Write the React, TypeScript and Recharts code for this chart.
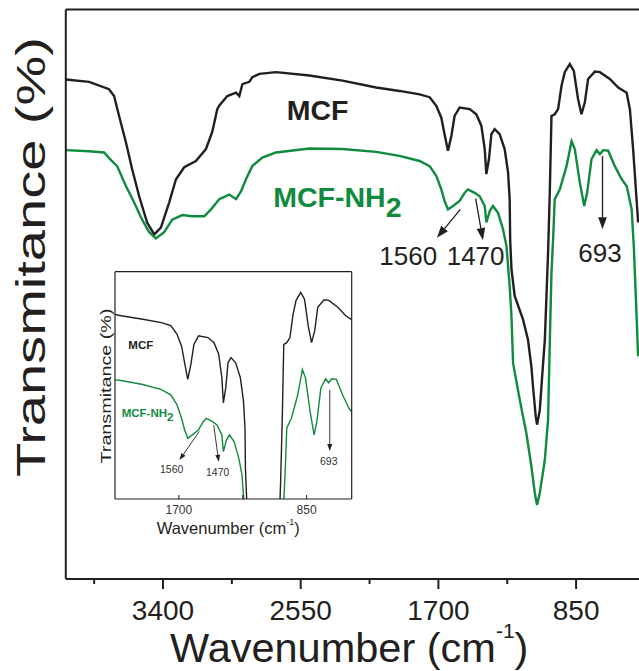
import { LineChart, Line, XAxis, YAxis, ReferenceLine } from "recharts";

const ink = "#231f20";
const green = "#0f8b3d";
const font = "'Liberation Sans', Arial, sans-serif";

// MCF spectrum (wavenumber, transmittance)
const mcfWn = [4000, 3856, 3733, 3702, 3671, 3629, 3590, 3547, 3498, 3454, 3413, 3362, 3320, 3269, 3197, 3135, 3096, 3065, 3053, 3003, 2949, 2929, 2910, 2867, 2849, 2805, 2702, 2496, 2292, 2084, 1940, 1816, 1754, 1713, 1682, 1662, 1641, 1620, 1600, 1569, 1507, 1466, 1435, 1414, 1404, 1388, 1373, 1353, 1322, 1291, 1270, 1260, 1257, 1249, 1229, 1178, 1147, 1126, 1116, 1099, 1091, 1074, 1058, 1043, 1033, 1023, 1012, 1002, 982, 961, 940, 920, 889, 864, 838, 817, 796, 776, 734, 703, 642, 590, 538, 518, 498, 477, 467];
const mcfT = [87.7, 87.3, 86.0, 84.8, 81.3, 76.7, 71.9, 67.2, 62.6, 60.5, 61.7, 66.1, 70.2, 72.3, 73.4, 75.5, 78.5, 82.5, 83.1, 84.8, 85.4, 84.8, 86.9, 87.3, 88.1, 88.7, 89.0, 88.4, 87.5, 86.3, 85.7, 85.1, 84.6, 83.1, 81.0, 78.1, 75.2, 77.8, 81.3, 82.8, 82.5, 81.6, 79.6, 75.5, 71.1, 73.7, 78.1, 79.0, 78.1, 75.5, 71.4, 66.7, 59.6, 54.4, 49.7, 45.6, 42.0, 37.3, 33.8, 28.5, 27.1, 29.7, 36.2, 42.0, 49.7, 57.3, 68.4, 81.3, 81.6, 82.5, 86.6, 89.0, 90.4, 89.2, 84.3, 81.6, 83.7, 87.8, 89.1, 89.0, 87.8, 86.3, 85.4, 82.5, 75.5, 66.7, 62.6];

// MCF-NH2 spectrum
const nh2Wn = [4000, 3856, 3763, 3733, 3683, 3629, 3578, 3529, 3485, 3444, 3393, 3343, 3281, 3220, 3145, 3104, 3053, 2991, 2949, 2918, 2888, 2849, 2787, 2702, 2496, 2292, 2084, 1940, 1816, 1754, 1713, 1682, 1662, 1641, 1610, 1569, 1538, 1518, 1476, 1445, 1414, 1404, 1383, 1363, 1332, 1301, 1280, 1260, 1249, 1239, 1198, 1157, 1126, 1105, 1091, 1074, 1043, 1023, 1012, 1002, 992, 982, 951, 909, 878, 858, 827, 800, 782, 755, 724, 703, 683, 652, 611, 569, 538, 507, 493, 467];
const nh2T = [75.3, 75.1, 74.9, 73.9, 72.5, 69.0, 66.1, 63.1, 60.9, 59.8, 60.9, 63.1, 63.9, 63.7, 63.7, 64.9, 66.7, 67.5, 66.7, 68.1, 70.2, 72.5, 74.0, 74.9, 75.6, 75.5, 75.0, 74.3, 73.4, 72.5, 70.8, 68.4, 66.4, 64.9, 65.5, 66.4, 67.8, 68.4, 67.8, 67.2, 65.5, 62.6, 64.6, 65.5, 64.3, 61.4, 58.5, 51.4, 46.1, 37.9, 31.5, 25.6, 19.8, 15.1, 13.0, 15.1, 20.9, 28.0, 42.0, 53.8, 59.6, 66.7, 68.4, 72.5, 76.9, 75.5, 69.6, 65.5, 67.8, 73.7, 75.3, 74.6, 75.3, 75.2, 72.5, 70.2, 69.0, 64.9, 57.9, 39.1];

const mainTicks = [3825, 3400, 2975, 2550, 2125, 1700, 1275, 850, 425];
const mainLabels = [3400, 2550, 1700, 850];
const insetXTicks = [1700, 1275, 850];
const insetLabels = [1700, 850];
const insetYTicks = [92.1, 85.8, 79.5, 73.2, 66.9, 60.6];

// arrows: [from, to] in (wavenumber, T)
const mainArrows = [
  [[1565, 64.9], [1709, 59.9]],
  [[1470, 66.8], [1425, 59.5]],
  [[687, 74.3], [687, 61.4]],
];
const insetArrows = [
  [[1564, 66.1], [1696, 61.1]],
  [[1468, 67.2], [1435, 60.8]],
  [[696, 73.4], [696, 62.7]],
];

const mcfData = mcfWn.map((wn, i) => ({ wn, t: mcfT[i] }));
const nh2Data = nh2Wn.map((wn, i) => ({ wn, t: nh2T[i] }));

const arrowShape = (size: number, sw: number) => (p: any) => {
  const { x1, y1, x2, y2 } = p;
  const a = Math.atan2(y2 - y1, x2 - x1);
  const hx = x2 - size * Math.cos(a);
  const hy = y2 - size * Math.sin(a);
  const w = size * 0.36;
  const ox = -Math.sin(a) * w;
  const oy = Math.cos(a) * w;
  return (
    <g>
      <line x1={x1} y1={y1} x2={hx} y2={hy} stroke={ink} strokeWidth={sw} />
      <polygon points={`${x2},${y2} ${hx + ox},${hy + oy} ${hx - ox},${hy - oy}`} fill={ink} />
    </g>
  );
};

const MainTick = (props: any) => {
  const { x, y, payload } = props;
  const major = mainLabels.includes(payload.value);
  return (
    <g>
      <line x1={x} x2={x} y1={y} y2={y + (major ? 10 : 5)} stroke={ink} strokeWidth={2} />
      {major && (
        <text x={x} y={y + 41} textAnchor="middle" fontSize={28} fill={ink} fontFamily={font}>
          {payload.value}
        </text>
      )}
    </g>
  );
};

const InsetTick = (props: any) => {
  const { x, y, payload } = props;
  const lab = insetLabels.includes(payload.value);
  return (
    <g>
      <line x1={x} x2={x} y1={y} y2={y - 4} stroke={ink} strokeWidth={1} />
      {lab && (
        <text x={x} y={y + 15} textAnchor="middle" fontSize={12} fill="#333" fontFamily={font}>
          {payload.value}
        </text>
      )}
    </g>
  );
};

export default function App() {
  return (
    <div style={{ position: "absolute", left: 0, top: 0, width: 639, height: 671, overflow: "hidden", background: "#fff" }}>
      <div style={{ position: "absolute", left: 0, top: 0 }}>
        <LineChart width={660} height={671} margin={{ top: 9.5, left: 64.8, right: 11, bottom: 91 }}>
          <XAxis dataKey="wn" type="number" domain={[400, 4000]} reversed allowDataOverflow ticks={mainTicks} interval={0}
            tickSize={0} tickMargin={0} tickLine={false} tick={<MainTick />} height={1}
            axisLine={{ stroke: ink, strokeWidth: 2 }} />
          <XAxis xAxisId="top" orientation="top" type="number" domain={[400, 4000]} reversed ticks={mainTicks} interval={0}
            mirror tickSize={4} tick={false} height={1}
            tickLine={{ stroke: ink, strokeWidth: 1.5 }} axisLine={{ stroke: ink, strokeWidth: 2 }} />
          <YAxis type="number" domain={[0, 100]} allowDataOverflow width={1} tick={false} tickLine={false}
            axisLine={{ stroke: ink, strokeWidth: 2 }} />
          <Line data={mcfData} dataKey="t" stroke={ink} strokeWidth={2.4} dot={false} isAnimationActive={false} />
          <Line data={nh2Data} dataKey="t" stroke={green} strokeWidth={2.4} dot={false} isAnimationActive={false} />
          {mainArrows.map((s, i) => (
            <ReferenceLine key={i} segment={[{ x: s[0][0], y: s[0][1] }, { x: s[1][0], y: s[1][1] }]} shape={arrowShape(12, 1.3)} />
          ))}
        </LineChart>
      </div>

      <div style={{ position: "absolute", left: 90, top: 262 }}>
        <LineChart width={271} height={278} margin={{ top: 9.7, left: 25, right: 9.3, bottom: 40 }}>
          <XAxis dataKey="wn" type="number" domain={[550, 2125]} reversed allowDataOverflow ticks={insetXTicks} interval={0}
            tickSize={0} tickMargin={0} tickLine={false} tick={<InsetTick />} height={1}
            axisLine={{ stroke: ink, strokeWidth: 1.2 }} />
          <XAxis xAxisId="top" orientation="top" type="number" domain={[550, 2125]} reversed ticks={insetXTicks} interval={0}
            mirror tickSize={4} tick={false} height={1}
            tickLine={{ stroke: ink, strokeWidth: 1 }} axisLine={{ stroke: ink, strokeWidth: 1.2 }} />
          <YAxis type="number" domain={[54.3, 94]} allowDataOverflow width={1} ticks={insetYTicks} interval={0}
            mirror tickSize={4} tick={false} tickLine={{ stroke: ink, strokeWidth: 1 }}
            axisLine={{ stroke: ink, strokeWidth: 1.2 }} />
          <YAxis yAxisId="r" orientation="right" type="number" domain={[54.3, 94]} width={1} ticks={insetYTicks} interval={0}
            mirror tickSize={4} tick={false} tickLine={{ stroke: ink, strokeWidth: 1 }}
            axisLine={{ stroke: ink, strokeWidth: 1.2 }} />
          <Line data={mcfData} dataKey="t" stroke={ink} strokeWidth={1.4} dot={false} isAnimationActive={false} />
          <Line data={nh2Data} dataKey="t" stroke={green} strokeWidth={1.4} dot={false} isAnimationActive={false} />
          {insetArrows.map((s, i) => (
            <ReferenceLine key={i} segment={[{ x: s[0][0], y: s[0][1] }, { x: s[1][0], y: s[1][1] }]} shape={arrowShape(7, 0.9)} />
          ))}
        </LineChart>
      </div>

      <svg width={639} height={671} style={{ position: "absolute", left: 0, top: 0, pointerEvents: "none" }} fontFamily={font}>
        {/* main annotations */}
        <text x={286.7} y={120} fontSize={28.5} fontWeight="bold" fill={ink}>MCF</text>
        <text x={273.3} y={206.7} fontSize={28.5} fontWeight="bold" fill={green}>
          MCF-NH<tspan dy={10}>2</tspan>
        </text>
        <text x={379.3} y={265} fontSize={26} fill={ink}>1560</text>
        <text x={446.7} y={265} fontSize={26} fill={ink}>1470</text>
        <text x={578.3} y={262} fontSize={26} fill={ink}>693</text>
        <text x={170} y={662} fontSize={41.5} fill={ink}>
          Wavenumber (cm<tspan fontSize={21} dy={-24}>-1</tspan><tspan dy={24}>)</tspan>
        </text>
        <text x={45} y={257} fontSize={40} fill={ink} textAnchor="middle" textLength={440} lengthAdjust="spacingAndGlyphs"
          transform="rotate(-90 45 257)">Transmitance (%)</text>

        {/* inset annotations */}
        <text x={128.3} y={348.5} fontSize={11.5} fontWeight="bold" fill={ink}>MCF</text>
        <text x={121.7} y={416.7} fontSize={11.5} fontWeight="bold" fill={green}>
          MCF-NH<tspan dy={4}>2</tspan>
        </text>
        <text x={160} y={473} fontSize={10.5} fill="#333">1560</text>
        <text x={206} y={476} fontSize={10.5} fill="#333">1470</text>
        <text x={320} y={465} fontSize={10.5} fill="#333">693</text>
        <text x={156.7} y={534} fontSize={16.5} fill={ink}>
          Wavenumber (cm<tspan fontSize={9} dy={-9}>-1</tspan><tspan dy={9}>)</tspan>
        </text>
        <text x={111} y={386} fontSize={15} fill={ink} textAnchor="middle" textLength={155} lengthAdjust="spacingAndGlyphs"
          transform="rotate(-90 111 386)">Transmitance (%)</text>
      </svg>
    </div>
  );
}
